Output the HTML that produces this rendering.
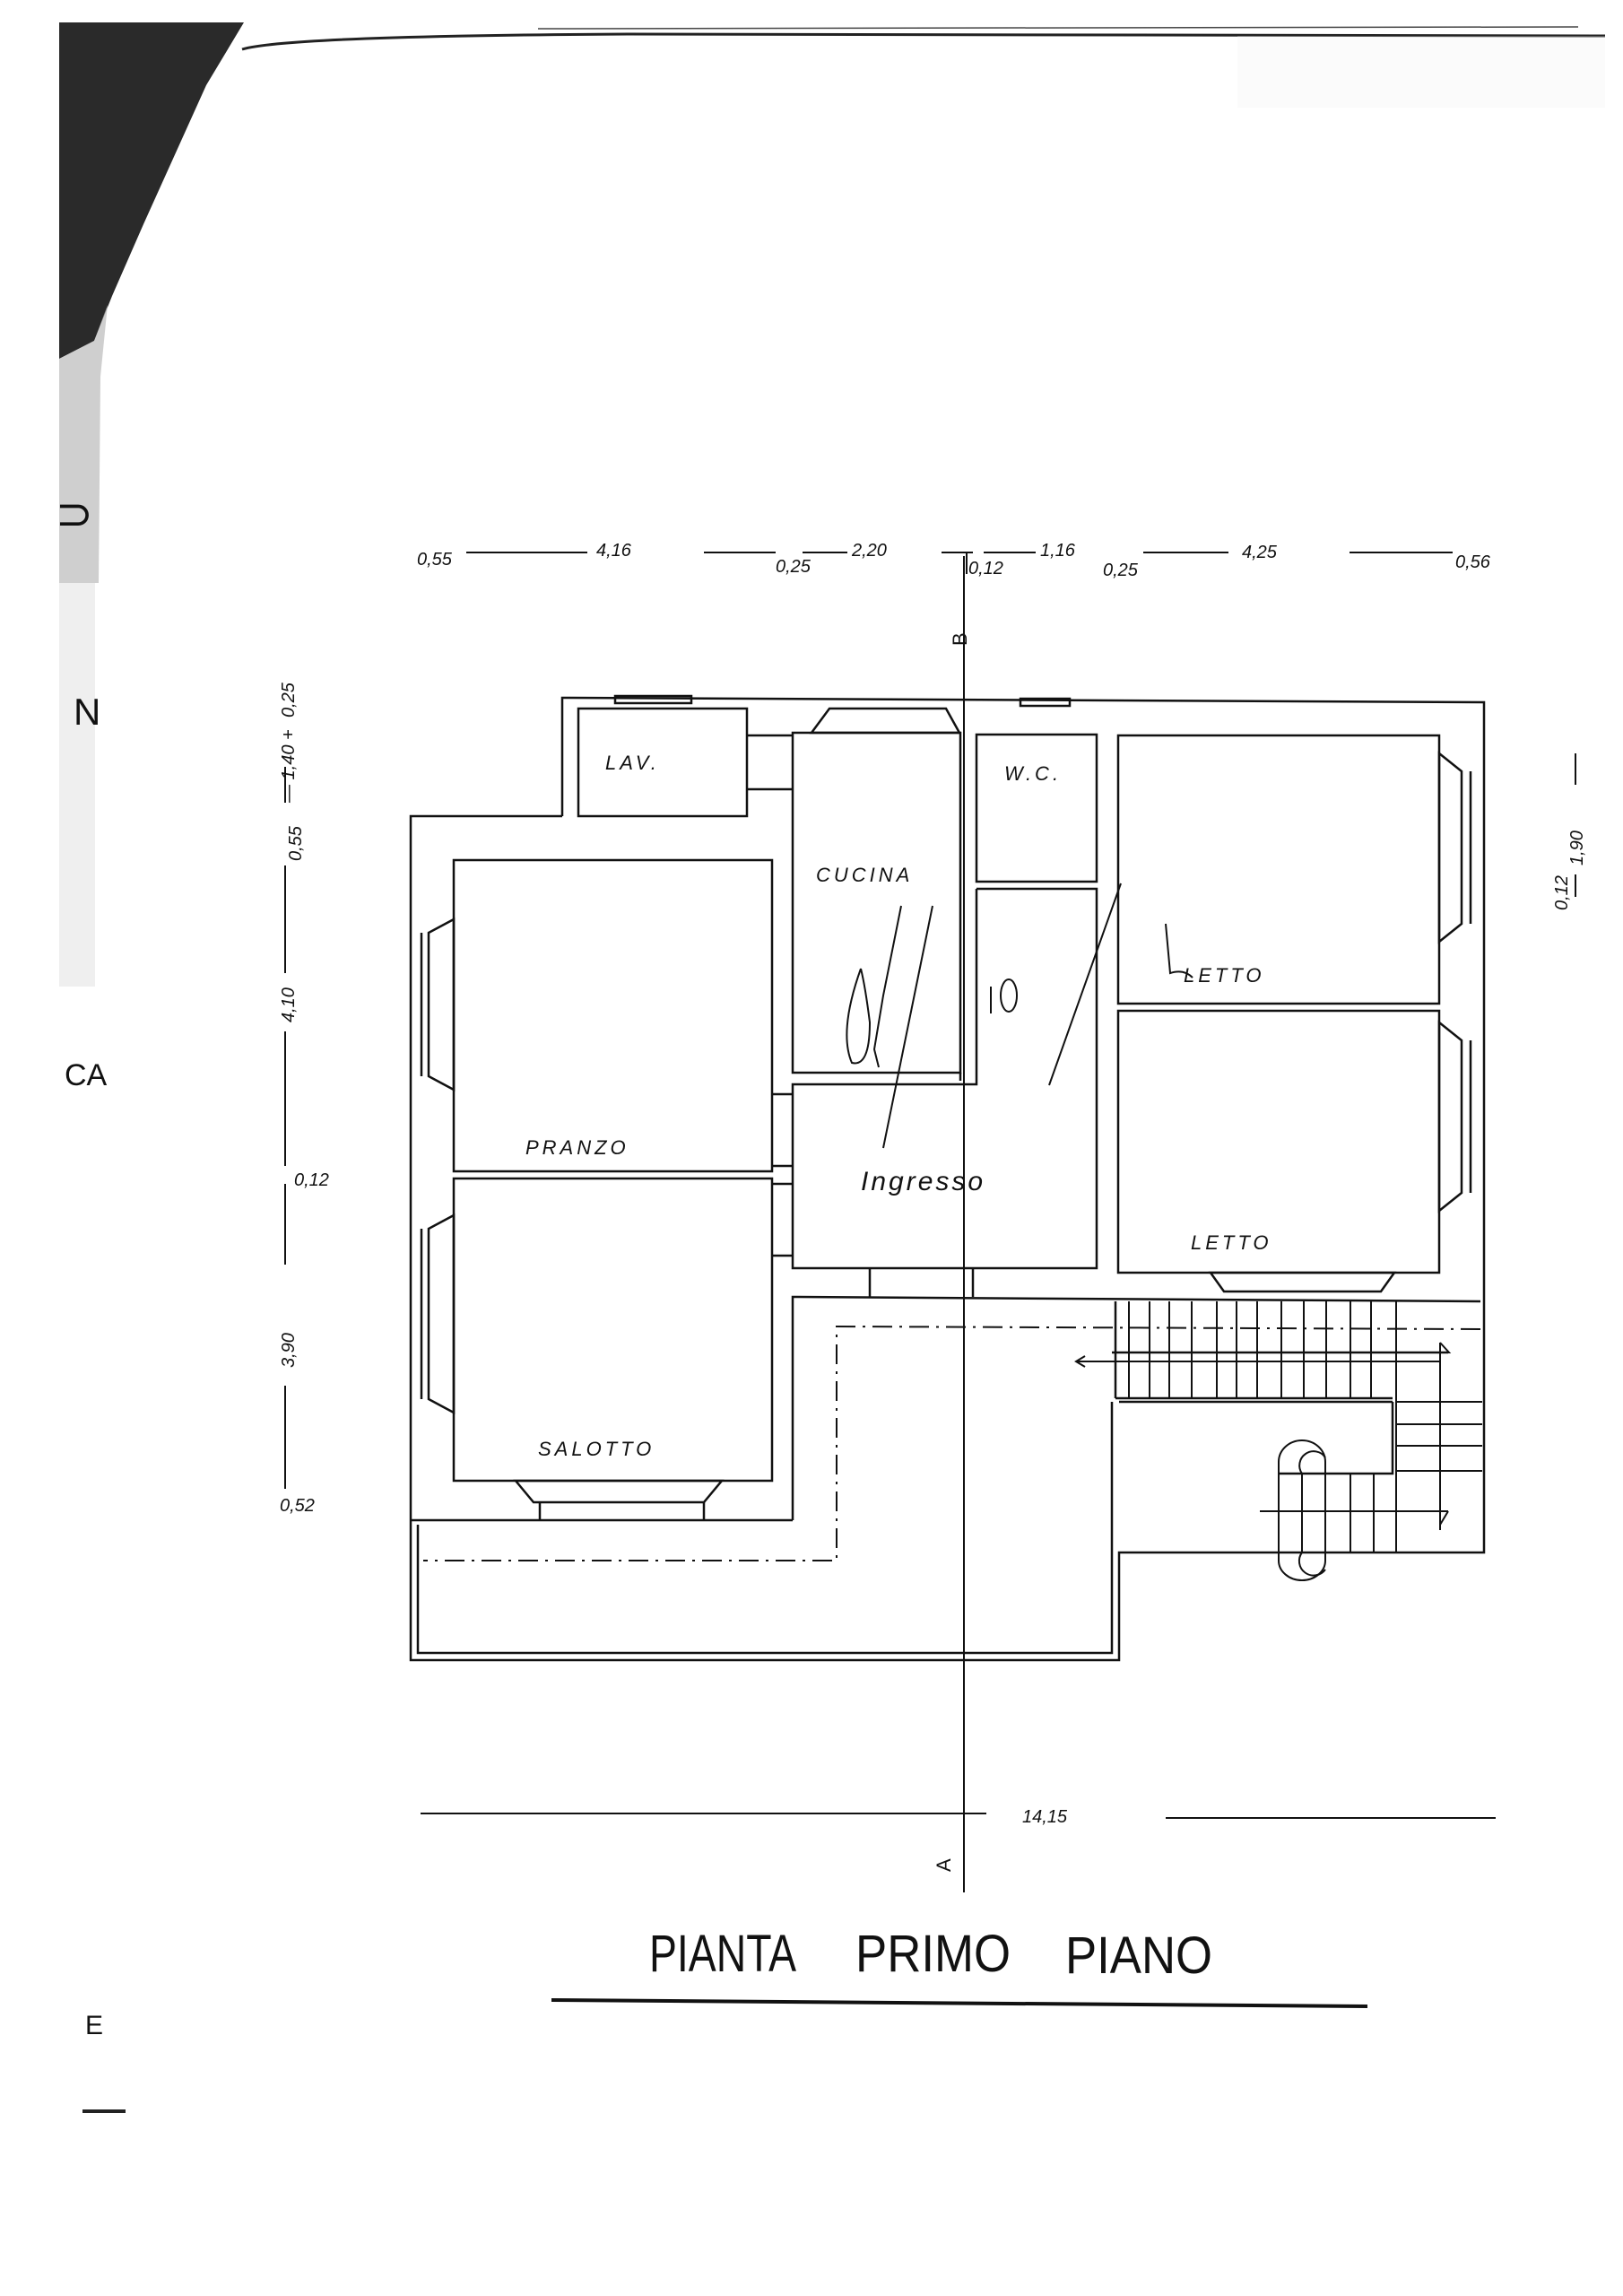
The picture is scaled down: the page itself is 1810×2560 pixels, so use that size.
<!DOCTYPE html>
<html><head><meta charset="utf-8"><style>
html,body{margin:0;padding:0;background:#fff;}
svg{display:block;}
text{font-family:"Liberation Sans",sans-serif;fill:#111;}
</style></head><body>
<svg width="1810" height="2560" viewBox="0 0 1810 2560" xmlns="http://www.w3.org/2000/svg">
<rect width="1810" height="2560" fill="#fff"/>
<!-- dark corner -->
<polygon points="66,25 272,25 230,95 160,250 125,330 105,380 66,400" fill="#2a2a2a"/>
<polygon points="66,400 105,380 120,340 112,420 110,650 66,650" fill="#bbb" opacity="0.7"/>
<rect x="66" y="650" width="40" height="450" fill="#e4e4e4" opacity="0.6"/>
<path d="M270,55 Q320,40 700,38 L1790,40" stroke="#222" stroke-width="3" fill="none"/>
<path d="M600,32 L1760,30" stroke="#444" stroke-width="1.5" fill="none"/>
<rect x="1380" y="40" width="410" height="80" fill="#eee" opacity="0.25"/>
<!-- margin letters -->
<text x="82" y="808" font-size="42">N</text>
<text x="72" y="1210" font-size="34">CA</text>
<text x="95" y="2268" font-size="30">E</text>
<rect x="92" y="2352" width="48" height="4" fill="#222"/>
<text x="62" y="590" font-size="50">&#x2283;</text>

<g stroke="#111" stroke-width="2.5" fill="none">
<polyline points="627,910 627,778 1655,783 1655,1731 1248,1731 1248,1851 458,1851 458,910 627,910"/>
<polyline points="466,1700 466,1843 1240,1843 1240,1563"/>
<rect x="686" y="776" width="85" height="8"/>
<rect x="1138" y="779" width="55" height="8"/>
<polygon points="905,817 925,790 1055,790 1070,817"/>
<rect x="645" y="790" width="188" height="120"/>
<line x1="833" y1="820" x2="884" y2="820"/>
<line x1="833" y1="880" x2="884" y2="880"/>
<rect x="506" y="959" width="355" height="347"/>
<rect x="506" y="1314" width="355" height="337"/>
<polygon points="575,1651 595,1675 785,1675 805,1651"/>
<line x1="602" y1="1675" x2="602" y2="1695"/><line x1="785" y1="1675" x2="785" y2="1695"/>
<polygon points="506,1025 478,1040 478,1200 506,1215"/>
<polygon points="506,1355 478,1370 478,1560 506,1575"/>
<line x1="470" y1="1040" x2="470" y2="1200"/><line x1="470" y1="1370" x2="470" y2="1560"/>
<rect x="884" y="817" width="187" height="379"/>
<line x1="861" y1="1220" x2="884" y2="1220"/><line x1="861" y1="1300" x2="884" y2="1300"/>
<line x1="861" y1="1320" x2="884" y2="1320"/><line x1="861" y1="1400" x2="884" y2="1400"/>
<rect x="1089" y="819" width="134" height="164"/>
<polyline points="1089,991 1223,991 1223,1414 884,1414 884,1209 1089,1209 1089,991"/>
<line x1="1071" y1="1196" x2="1071" y2="1205"/>
<rect x="1247" y="820" width="358" height="299"/>
<rect x="1247" y="1127" width="358" height="292"/>
<polygon points="1605,840 1630,860 1630,1030 1605,1050"/>
<polygon points="1605,1140 1630,1160 1630,1330 1605,1350"/>
<line x1="1640" y1="860" x2="1640" y2="1030"/><line x1="1640" y1="1160" x2="1640" y2="1330"/>
<polygon points="1350,1419 1365,1440 1540,1440 1555,1419"/>
<polyline points="884,1695 884,1446 1651,1451"/>
<line x1="970" y1="1414" x2="970" y2="1446"/><line x1="1085" y1="1414" x2="1085" y2="1446"/>
<line x1="458" y1="1695" x2="884" y2="1695"/>
<line x1="1244" y1="1451" x2="1244" y2="1559"/>
<line x1="1244" y1="1559" x2="1553" y2="1559"/>
<line x1="1248" y1="1563" x2="1553" y2="1563"/>
<polyline points="1553,1563 1553,1643 1426,1643"/>
<line x1="1240" y1="1508" x2="1615" y2="1508"/>
<g stroke-width="2">
<line x1="1259" y1="1451" x2="1259" y2="1559"/><line x1="1282" y1="1451" x2="1282" y2="1559"/>
<line x1="1304" y1="1451" x2="1304" y2="1559"/><line x1="1329" y1="1451" x2="1329" y2="1559"/>
<line x1="1357" y1="1451" x2="1357" y2="1559"/><line x1="1379" y1="1451" x2="1379" y2="1559"/>
<line x1="1402" y1="1451" x2="1402" y2="1559"/><line x1="1429" y1="1451" x2="1429" y2="1559"/>
<line x1="1454" y1="1451" x2="1454" y2="1559"/><line x1="1479" y1="1451" x2="1479" y2="1559"/>
<line x1="1506" y1="1451" x2="1506" y2="1559"/><line x1="1529" y1="1451" x2="1529" y2="1559"/>
<line x1="1557" y1="1451" x2="1557" y2="1731"/>
<line x1="1557" y1="1563" x2="1653" y2="1563"/><line x1="1557" y1="1588" x2="1653" y2="1588"/>
<line x1="1557" y1="1612" x2="1653" y2="1612"/><line x1="1557" y1="1640" x2="1653" y2="1640"/>
<line x1="1426" y1="1643" x2="1426" y2="1731"/><line x1="1452" y1="1643" x2="1452" y2="1731"/>
<line x1="1478" y1="1643" x2="1478" y2="1731"/><line x1="1506" y1="1643" x2="1506" y2="1731"/>
<line x1="1532" y1="1643" x2="1532" y2="1731"/>
<line x1="1606" y1="1497" x2="1606" y2="1706"/>
<line x1="1405" y1="1685" x2="1615" y2="1685"/>
<polyline points="1606,1497 1616,1508 1606,1508"/>
<polyline points="1615,1685 1606,1700"/>
<path d="M1426,1643 L1426,1630 A26,24 0 0 1 1478,1630 L1478,1643"/>
<path d="M1452,1643 A14,14 0 0 1 1478,1625"/>
<path d="M1426,1731 L1426,1740 A26,22 0 0 0 1478,1740 L1478,1731"/>
<path d="M1452,1731 A14,14 0 0 0 1478,1750"/>
<polyline points="1210,1512 1200,1518 1210,1524"/>
<line x1="1200" y1="1518" x2="1606" y2="1518"/>
</g>
</g>
<g stroke="#111" stroke-width="2" fill="none" stroke-dasharray="22,8,3,8">
<polyline points="1651,1482 933,1479 933,1740 472,1740"/>
</g>
<line x1="1075" y1="620" x2="1075" y2="2110" stroke="#111" stroke-width="2"/>
<text x="1060" y="718" font-size="22" transform="rotate(-90 1070 710)">B</text>
<text x="1045" y="2088" font-size="22" transform="rotate(-90 1052 2080)">A</text>
<g font-style="italic" font-size="22" letter-spacing="4">
<text x="675" y="858">LAV.</text>
<text x="1120" y="870">W.C.</text>
<text x="910" y="983">CUCINA</text>
<text x="1320" y="1095">LETTO</text>
<text x="586" y="1287">PRANZO</text>
<text x="1328" y="1393">LETTO</text>
<text x="600" y="1623">SALOTTO</text>
</g>
<text x="960" y="1327" font-size="30" font-style="italic" letter-spacing="3">Ingresso</text>
<g stroke="#111" stroke-width="2" fill="none">
<path d="M1005,1010 L985,1110 L975,1170 L980,1190"/>
<path d="M960,1080 Q935,1150 950,1185 Q970,1190 970,1140 Q965,1100 960,1080"/>
<path d="M1040,1010 L985,1280"/>
<path d="M1250,985 L1170,1210"/>
<ellipse cx="1125" cy="1110" rx="9" ry="18"/>
<path d="M1105,1100 L1105,1130"/>
<path d="M1300,1030 L1305,1085 Q1320,1080 1330,1090"/>
</g>
<g font-size="20" font-style="italic">
<text x="465" y="630">0,55</text><text x="665" y="620">4,16</text>
<text x="865" y="638">0,25</text><text x="950" y="620">2,20</text>
<text x="1080" y="640">0,12</text><text x="1160" y="620">1,16</text>
<text x="1230" y="642">0,25</text><text x="1385" y="622">4,25</text>
<text x="1623" y="633">0,56</text>
</g>
<g stroke="#111" stroke-width="2">
<line x1="520" y1="616" x2="655" y2="616"/><line x1="785" y1="616" x2="865" y2="616"/>
<line x1="895" y1="616" x2="945" y2="616"/><line x1="1050" y1="616" x2="1085" y2="616"/>
<line x1="1097" y1="616" x2="1155" y2="616"/><line x1="1275" y1="616" x2="1370" y2="616"/>
<line x1="1505" y1="616" x2="1620" y2="616"/>
<line x1="1078" y1="616" x2="1078" y2="640"/>
</g>
<g stroke="#111" stroke-width="2">
<line x1="318" y1="855" x2="318" y2="895"/><line x1="318" y1="965" x2="318" y2="1085"/>
<line x1="318" y1="1150" x2="318" y2="1300"/><line x1="318" y1="1320" x2="318" y2="1410"/>
<line x1="318" y1="1545" x2="318" y2="1660"/>
<line x1="1757" y1="840" x2="1757" y2="875"/><line x1="1757" y1="975" x2="1757" y2="1000"/>
</g>
<g font-size="20" font-style="italic">
<text transform="translate(328,800) rotate(-90)">0,25</text>
<text transform="translate(328,895) rotate(-90)">— 1,40 +</text>
<text transform="translate(336,960) rotate(-90)">0,55</text>
<text transform="translate(328,1140) rotate(-90)">4,10</text>
<text x="328" y="1322">0,12</text>
<text transform="translate(328,1525) rotate(-90)">3,90</text>
<text x="312" y="1685">0,52</text>
<text transform="translate(1765,965) rotate(-90)">1,90</text>
<text transform="translate(1748,1015) rotate(-90)">0,12</text>
</g>
<line x1="469" y1="2022" x2="1100" y2="2022" stroke="#111" stroke-width="2"/>
<line x1="1300" y1="2027" x2="1668" y2="2027" stroke="#111" stroke-width="2"/>
<text x="1140" y="2032" font-size="20" font-style="italic">14,15</text>
<g font-size="58">
<text x="724" y="2198" textLength="164" lengthAdjust="spacingAndGlyphs">PIANTA</text>
<text x="954" y="2198" textLength="173" lengthAdjust="spacingAndGlyphs">PRIMO</text>
<text x="1188" y="2200" textLength="164" lengthAdjust="spacingAndGlyphs">PIANO</text>
</g>
<line x1="615" y1="2230" x2="1525" y2="2237" stroke="#111" stroke-width="4"/>
</svg>
</body></html>
